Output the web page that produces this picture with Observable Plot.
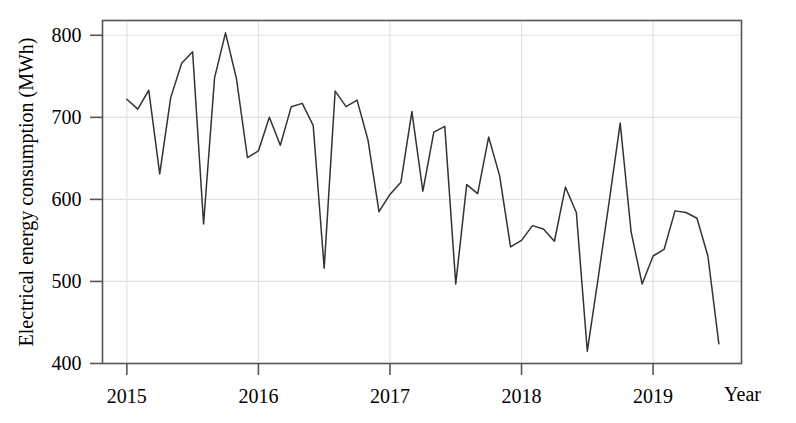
<!DOCTYPE html>
<html>
<head>
<meta charset="utf-8">
<script src="https://cdn.jsdelivr.net/npm/d3@7"></script>
<script src="https://cdn.jsdelivr.net/npm/@observablehq/plot@0.6"></script>
<style>
  html, body { margin: 0; padding: 0; background: #fff; }
</style>
</head>
<body>
<div id="chart"></div>
<script>
// Monthly electrical energy consumption (MWh), Jan 2015 – Jul 2019
const startYear = 2015;
const consumption = [
  722, 710, 733, 631, 724, 766, 780, 570, 748, 803, 747, 651, // 2015
  659, 700, 666, 713, 717, 690, 516, 732, 713, 721, 672, 585, // 2016
  606, 621, 707, 610, 682, 689, 497, 618, 607, 676, 629, 542, // 2017
  550, 568, 564, 549, 615, 584, 415, 505, 598, 693, 560, 497, // 2018
  531, 539, 586, 584, 577, 531, 424                           // 2019
];
const xTicks = [2015, 2016, 2017, 2018, 2019];
const yTicks = [400, 500, 600, 700, 800];
const xLabel = "Year";
const yLabel = "Electrical energy consumption (MWh)";

const data = consumption.map((v, i) => ({t: startYear + i / 12, v}));

const chart = Plot.plot({
  width: 796,
  height: 423,
  marginLeft: 102,
  marginRight: 55,
  marginTop: 20,
  marginBottom: 60,
  style: {
    fontFamily: "'Liberation Serif', 'Times New Roman', serif",
    fontSize: "20px",
    color: "#000",
    background: "#fff"
  },
  x: {type: "linear", domain: [2014.815, 2019.672]},
  y: {domain: [400, 818]},
  marks: [
    Plot.gridX(xTicks, {stroke: "#e2e2e2", strokeOpacity: 1, strokeWidth: 1.2}),
    Plot.gridY(yTicks, {stroke: "#e2e2e2", strokeOpacity: 1, strokeWidth: 1.2}),
    Plot.lineY(data, {x: "t", y: "v", stroke: "#333", strokeWidth: 1.5}),
    Plot.frame({stroke: "#555", strokeWidth: 1.6}),
    Plot.axisX(xTicks, {
      tickSize: 12, tickPadding: 13, tickFormat: d => String(d),
      stroke: "#555", strokeWidth: 1.6, fill: "#000", fontSize: 20, label: null
    }),
    Plot.axisY(yTicks, {
      tickSize: 12, tickPadding: 9,
      stroke: "#555", strokeWidth: 1.6, fill: "#000", fontSize: 20,
      label: yLabel, labelAnchor: "center", labelOffset: 84, labelArrow: "none"
    }),
    Plot.text([xLabel], {text: d => d, frameAnchor: "bottom-right", dy: 31, dx: 1, textAnchor: "middle", lineAnchor: "middle", fill: "#000", fontSize: 20})
  ]
});
document.getElementById("chart").appendChild(chart);
</script>
</body>
</html>
